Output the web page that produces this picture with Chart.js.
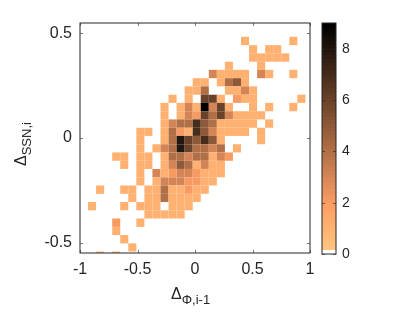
<!DOCTYPE html>
<html>
<head>
<meta charset="utf-8">
<script src="https://cdn.jsdelivr.net/npm/chart.js@4.4.1/dist/chart.umd.min.js"></script>
<style>
  html, body { margin: 0; padding: 0; background: #fff; }
  #wrap { position: relative; width: 416px; height: 312px; overflow: hidden;
          font-family: "Liberation Sans", Arial, sans-serif; color: #262626; }
  #main { position: absolute; left: 0; top: 0; }
  #cbar { position: absolute; left: 300px; top: 0; }
  .title { position: absolute; white-space: nowrap; font-size: 16px; line-height: 16px; }
  .title sub { font-size: 13px; line-height: 0; vertical-align: -5px; }
  #ytitle { transform-origin: 0 0; transform: rotate(-90deg); }
</style>
</head>
<body>
<div id="wrap">
  <canvas id="main" width="416" height="312"></canvas>
  <canvas id="cbar" width="116" height="312"></canvas>
  <div class="title" id="xtitle" style="left:171px; top:286px;">Δ<sub>Φ,i-1</sub></div>
  <div class="title" id="ytitle" style="left:13px; top:166px;">Δ<sub>SSN,i</sub></div>
</div>
<script>
// bin edges of the 2-D histogram
const xEdges = [-1, -0.93, -0.86, -0.79, -0.72, -0.65, -0.58, -0.51, -0.44, -0.37,
  -0.30, -0.23, -0.16, -0.09, -0.02, 0.05, 0.12, 0.19, 0.26, 0.33,
  0.40, 0.47, 0.54, 0.61, 0.68, 0.75, 0.82, 0.89, 0.96];
const yEdges = [-0.583, -0.543, -0.504, -0.464, -0.425, -0.385, -0.346, -0.306, -0.267,
  -0.227, -0.188, -0.148, -0.109, -0.069, -0.030, 0.010, 0.049, 0.089, 0.128,
  0.168, 0.207, 0.247, 0.286, 0.326, 0.365, 0.405, 0.444, 0.484];

// counts per bin, top row first (y high -> low), columns left -> right
const counts = [
  [0,0,0,0,0,0,0,0,0,0, 0,0,0,0,0,0,0,0,0,0, 1,0,0,0,0,0,1,0],
  [0,0,0,0,0,0,0,0,0,0, 0,0,0,0,0,0,0,0,0,0, 0,1,0,1,1,0,0,0],
  [0,0,0,0,0,0,0,0,0,0, 0,0,0,0,0,0,0,0,0,0, 0,1,1,1,1,1,0,0],
  [0,0,0,0,0,0,0,0,0,0, 0,0,0,0,0,0,0,0,1,0, 0,0,1,0,0,0,0,0],
  [0,0,0,0,0,0,0,0,0,0, 0,0,0,0,0,0,3,1,1,1, 1,0,3,1,0,0,1,0],
  [0,0,0,0,0,0,0,0,0,0, 0,0,0,0,1,1,0,1,4,5, 1,0,0,0,0,0,0,0],
  [0,0,0,0,0,0,0,0,0,0, 0,0,0,1,1,4,0,0,1,1, 3,1,0,0,0,0,0,0],
  [0,0,0,0,0,0,0,0,0,0, 0,1,0,1,0,6,6,1,0,2, 1,1,0,0,0,0,0,1],
  [0,0,0,0,0,0,0,0,0,0, 1,0,1,3,1,9,3,6,1,0, 0,1,0,1,0,0,1,0],
  [0,0,0,0,0,0,0,0,0,0, 1,0,1,3,2,6,4,6,3,1, 1,1,1,0,0,0,0,0],
  [0,0,0,0,0,0,0,0,0,0, 1,3,4,4,7,5,4,1,1,1, 1,1,0,1,0,0,0,0],
  [0,0,0,0,0,0,0,1,1,0, 1,4,2,1,7,5,3,1,1,1, 1,0,1,0,0,0,0,0],
  [0,0,0,0,0,0,0,1,0,0, 1,4,8,6,5,7,5,1,0,0, 0,0,1,0,0,0,0,0],
  [0,0,0,0,0,0,0,1,0,1, 3,4,8,6,4,4,3,4,0,1, 0,0,0,0,0,0,0,0],
  [0,0,0,0,1,1,0,1,1,0, 1,4,4,3,4,4,1,3,2,0, 0,0,0,0,0,0,0,0],
  [0,0,0,0,0,1,0,1,1,0, 1,3,5,4,1,3,1,1,0,0, 0,0,0,0,0,0,0,0],
  [0,0,0,0,0,0,0,1,0,3, 1,2,3,3,2,1,1,1,0,0, 0,0,0,0,0,0,0,0],
  [0,0,0,0,0,0,0,1,0,1, 3,3,3,2,2,1,1,0,0,0, 0,0,0,0,0,0,0,0],
  [0,0,1,0,0,1,1,0,1,1, 4,1,1,2,1,1,0,0,0,0, 0,0,0,0,0,0,0,0],
  [0,0,0,0,0,0,1,0,1,1, 4,1,1,1,1,0,0,0,0,0, 0,0,0,0,0,0,0,0],
  [0,1,0,0,0,1,0,1,1,1, 0,1,1,1,0,0,0,0,0,0, 0,0,0,0,0,0,0,0],
  [0,0,0,0,0,0,0,0,1,1, 1,1,1,0,0,0,0,0,0,0, 0,0,0,0,0,0,0,0],
  [0,0,0,0,2,0,0,1,0,0, 0,0,0,0,0,0,0,0,0,0, 0,0,0,0,0,0,0,0],
  [0,0,0,0,1,0,0,0,0,0, 0,0,0,0,0,0,0,0,0,0, 0,0,0,0,0,0,0,0],
  [0,0,0,0,0,1,0,0,0,0, 0,0,0,0,0,0,0,0,0,0, 0,0,0,0,0,0,0,0],
  [0,0,0,0,0,0,1,0,0,0, 0,0,0,0,0,0,0,0,0,0, 0,0,0,0,0,0,0,0],
  [0,0,1,0,1,0,0,0,0,0, 0,0,0,0,0,0,0,0,0,0, 0,0,0,0,0,0,0,0],
];

const xTicks = [-1, -0.5, 0, 0.5, 1];
const yTicks = [-0.5, 0, 0.5];
const cTicks = [0, 2, 4, 6, 8];
const cMin = 0, cMax = 9;

const N_COLORS = 64;
const TEXT = '#262626';
const FONT = '"Liberation Sans", Arial, sans-serif';

// flipped copper map, lowest entry white (MATLAB style indexing)
function colorAt(i) {
  if (i <= 0) return 'rgb(255,255,255)';
  const t = 1 - i / (N_COLORS - 1);
  const r = Math.round(255 * Math.min(1, 1.25 * t));
  const g = Math.round(255 * 0.7812 * t);
  const b = Math.round(255 * 0.4975 * t);
  return `rgb(${r},${g},${b})`;
}
function colorFor(v) {
  const i = Math.min(N_COLORS - 1, Math.floor((v - cMin) / (cMax - cMin) * N_COLORS));
  return colorAt(i);
}

// one record per non-empty bin
const cells = [];
const nRows = counts.length;
counts.forEach((row, r) => {
  const j = nRows - 1 - r;
  row.forEach((v, k) => {
    if (!v) return;
    cells.push({
      x: (xEdges[k] + xEdges[k + 1]) / 2,
      y: (yEdges[j] + yEdges[j + 1]) / 2,
      x0: xEdges[k], x1: xEdges[k + 1],
      y0: yEdges[j], y1: yEdges[j + 1],
      v,
    });
  });
});

// draws each bin as a tile through the chart's scales
const tilePlugin = {
  id: 'tiles',
  beforeDatasetsDraw(chart) {
    const { ctx, chartArea: a, scales: { x, y } } = chart;
    ctx.save();
    ctx.beginPath();
    ctx.rect(a.left, a.top, a.width, a.height);
    ctx.clip();
    chart.data.datasets[0].data.forEach(c => {
      const px0 = x.getPixelForValue(c.x0), px1 = x.getPixelForValue(c.x1);
      const py0 = y.getPixelForValue(c.y0), py1 = y.getPixelForValue(c.y1);
      ctx.fillStyle = colorFor(c.v);
      ctx.fillRect(px0, py1, px1 - px0, py0 - py1);
    });
    ctx.restore();
  },
};

// MATLAB-like box with inward ticks on every side
const boxPlugin = {
  id: 'box',
  afterDraw(chart) {
    const { ctx, chartArea: a, scales } = chart;
    ctx.save();
    ctx.strokeStyle = TEXT;
    ctx.lineWidth = 1;
    ctx.strokeRect(a.left, a.top, a.width, a.height);
    const len = 3;
    ctx.beginPath();
    Object.values(scales).forEach(s => {
      if (!s.options.display) return;
      s.ticks.forEach(t => {
        const p = Math.round(s.getPixelForValue(t.value)) + 0.5;
        if (s.isHorizontal()) {
          ctx.moveTo(p, a.bottom); ctx.lineTo(p, a.bottom - len);
          ctx.moveTo(p, a.top); ctx.lineTo(p, a.top + len);
        } else {
          ctx.moveTo(a.left, p); ctx.lineTo(a.left + len, p);
          ctx.moveTo(a.right, p); ctx.lineTo(a.right - len, p);
        }
      });
    });
    ctx.globalAlpha = 0.6;
    ctx.stroke();
    ctx.restore();
  },
};

const fmt = v => String(v);

new Chart(document.getElementById('main'), {
  type: 'scatter',
  data: {
    datasets: [{ data: cells, pointRadius: 0, pointHoverRadius: 0 }],
  },
  options: {
    responsive: false,
    animation: false,
    events: [],
    layout: { padding: { top: 23, right: 106, left: 0, bottom: 0 } },
    plugins: { legend: { display: false }, tooltip: { enabled: false } },
    scales: {
      x: {
        type: 'linear', min: -1, max: 1,
        afterBuildTicks: s => { s.ticks = xTicks.map(v => ({ value: v })); },
        afterFit: s => { s.height = 59; },
        grid: { display: false, drawTicks: false },
        border: { display: false },
        ticks: { color: TEXT, font: { family: FONT, size: 16 }, padding: 7, maxRotation: 0, callback: fmt },
      },
      y: {
        type: 'linear', min: -0.55, max: 0.55,
        afterBuildTicks: s => { s.ticks = yTicks.map(v => ({ value: v })); },
        afterFit: s => { s.width = 80; },
        grid: { display: false, drawTicks: false },
        border: { display: false },
        ticks: { color: TEXT, font: { family: FONT, size: 16 }, padding: 8, callback: fmt },
      },
    },
  },
  plugins: [tilePlugin, boxPlugin],
});

// colour bar: one floating bar from cMin to cMax painted with the map
new Chart(document.getElementById('cbar'), {
  type: 'bar',
  data: {
    labels: ['count'],
    datasets: [{
      data: [[cMin, cMax]],
      barPercentage: 1,
      categoryPercentage: 1,
      borderWidth: 0,
      backgroundColor: ctx => {
        const a = ctx.chart.chartArea;
        if (!a) return colorAt(N_COLORS - 1);
        const g = ctx.chart.ctx.createLinearGradient(0, a.bottom, 0, a.top);
        for (let i = 0; i < N_COLORS; i++) {
          g.addColorStop(i / N_COLORS, colorAt(i));
          g.addColorStop((i + 1) / N_COLORS - 1e-6, colorAt(i));
        }
        return g;
      },
    }],
  },
  options: {
    responsive: false,
    animation: false,
    events: [],
    layout: { padding: { top: 23, left: 22, right: 0, bottom: 58 } },
    plugins: { legend: { display: false }, tooltip: { enabled: false } },
    scales: {
      x: { display: false },
      y: {
        position: 'right',
        min: cMin, max: cMax,
        afterBuildTicks: s => { s.ticks = cTicks.map(v => ({ value: v })); },
        afterFit: s => { s.width = 80; },
        grid: { display: false, drawTicks: false },
        border: { display: false },
        ticks: { color: TEXT, font: { family: FONT, size: 14 }, padding: 6, callback: fmt },
      },
    },
  },
  plugins: [boxPlugin],
});
</script>
</body>
</html>
